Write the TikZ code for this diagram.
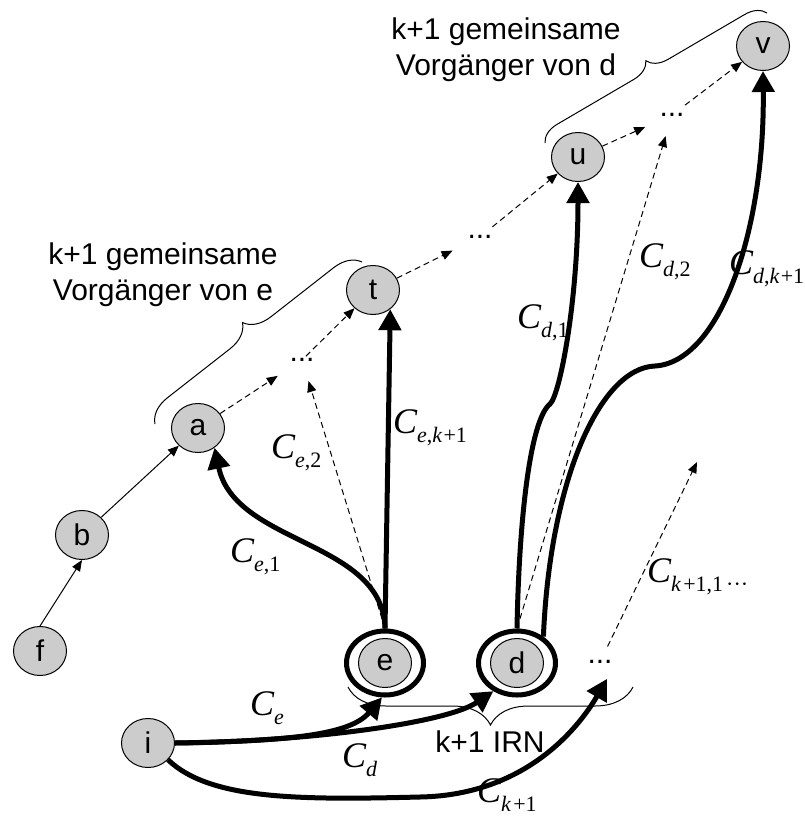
\documentclass[tikz,border=0pt]{standalone}
\usepackage{fontspec}
\setmainfont{Liberation Sans}
\newfontfamily\tmsfont{Liberation Serif}
\usetikzlibrary{arrows.meta,shapes.geometric,decorations.pathreplacing}
\definecolor{nodegray}{RGB}{204,204,204}

% italic C with a lowered subscript, set in a Times-like serif
\newcommand\Clab[1]{{\tmsfont\fontsize{36}{36}\selectfont\itshape C}\raisebox{-9pt}{\tmsfont\fontsize{22}{22}\selectfont #1}}

\begin{document}
\begin{tikzpicture}[x=1pt,y=-1pt,
  every node/.style={font=\fontsize{30}{36}\selectfont},
  vert/.style={ellipse, draw, line width=1pt, fill=nodegray, minimum width=53pt, minimum height=49pt, inner sep=0pt},
  ring/.style={ellipse, draw, line width=5pt, fill=white, minimum width=77pt, minimum height=64pt, inner sep=0pt},
  dots/.style={inner sep=2pt},
  clab/.style={anchor=base west, inner sep=0pt},
  txt/.style={inner sep=0pt},
  thin arrow/.style={line width=1pt, -{Triangle[length=11pt,width=9pt]}},
  dash arrow/.style={line width=1pt, dash pattern=on 6pt off 4pt, -{Triangle[length=11pt,width=9pt]}},
  thick arrow/.style={line width=5pt, -{Triangle[length=21pt,width=22pt]}},
  grp brace/.style={decorate, decoration={brace, amplitude=#1}, line width=1pt},
]
\useasboundingbox (0,0) rectangle (804,819);

% braces grouping the predecessors and the IRN
\draw[grp brace=26pt] (155,424) -- (362,262);
\draw[grp brace=20pt] (545,143) -- (767,13);
\draw[grp brace=38pt] (633,687) -- (348,687);

% texts
\node[txt, anchor=north, align=center] (txtE) at (163,243) {k+1 gemeinsame\\Vorgänger von e};
\node[txt, anchor=north, align=center] (txtD) at (506,18) {k+1 gemeinsame\\Vorgänger von d};
\node[txt, anchor=base] (txtIRN) at (490,752) {k+1 IRN};

% vertices
\node[vert] (f) at (40,651) {f};
\node[vert] (b) at (82,535) {b};
\node[vert] (a) at (198,428) {a};
\node[vert] (t) at (373,290) {t};
\node[vert] (u) at (578,157) {u};
\node[vert] (v) at (763,46) {v};
\node[vert] (i) at (148,743) {i};
\node[ring] (e) at (385,663) {};
\node[vert] (e0) at (e) {e};
\node[ring] (d) at (517,663) {};
\node[vert] (d0) at (d) {d};

% elided vertices
\node[dots] (dA) at (302,360) {...};
\node[dots] (dT) at (480,237) {...};
\node[dots] (dU) at (672,115) {...};
\node[dots] (dB) at (600,662) {...};
\coordinate (cq) at (697,462);

% predecessor chain
\draw[thin arrow] (f.north) -- (b.south);
\draw[thin arrow] (b) -- (a);
\draw[dash arrow, shorten >=22pt] (a) -- (dA);
\draw[dash arrow] (dA) -- (t);
\draw[dash arrow, shorten >=22pt] (t) -- (dT);
\draw[dash arrow, shorten <=10pt] (dT) -- (u);
\draw[dash arrow, shorten >=20pt] (u) -- (dU);
\draw[dash arrow, shorten <=10pt] (dU) -- (v);

% dashed paths
\draw[dash arrow, shorten >=18pt] (e.north) -- (dA);
\draw[dash arrow, shorten >=18pt] (d.north) -- (dU);
\draw[dash arrow, shorten <=13pt] (dB) -- (cq);

% thick paths from e and d
\draw[thick arrow] (e.north) .. controls (383,540) and (235,545) .. (a.-50);
\draw[thick arrow] (e.north) -- (t.-48);
\draw[thick arrow] (d.north) .. controls (519,520) and (530,420) .. (550,404)
  .. controls (560,395) and (578,300) .. (u.south);
\draw[thick arrow] (d.45) .. controls (550,480) and (600,368) .. (655,366)
  .. controls (720,362) and (765,230) .. (v.south);

% thick paths from i
\draw[thick arrow] (i.east) .. controls (290,741) and (350,735) .. (e.265);
\draw[thick arrow] (i.east) .. controls (300,742) and (445,724) .. (d.230);
\draw[thick arrow, shorten >=15pt] (i.-40) .. controls (210,800) and (300,800) .. (420,797)
  .. controls (530,795) and (582,722) .. (dB.south east);

% path labels
\node[clab] (lCe1) at (230,562) {\Clab{\textit{e},1}};
\node[clab] (lCe2) at (271,458) {\Clab{\textit{e},2}};
\node[clab] (lCek) at (393,433) {\Clab{\textit{e},\textit{k}\kern1pt+1}};
\node[clab] (lCd1) at (517,328) {\Clab{\textit{d},1}};
\node[clab] (lCd2) at (639,267) {\Clab{\textit{d},2}};
\node[clab] (lCdk) at (729,274) {\Clab{\textit{d},\textit{k}\kern1pt+1}};
\node[clab] (lCk1) at (647,582) {\Clab{\textit{k}\kern2pt+1,1\kern3pt···}};
\node[clab] (lCe) at (250,715) {\Clab{\textit{e}}};
\node[clab] (lCd) at (342,767) {\Clab{\textit{d}}};
\node[clab] (lCk) at (477,802) {\Clab{\textit{k}\kern2pt+1}};
\end{tikzpicture}
\end{document}
